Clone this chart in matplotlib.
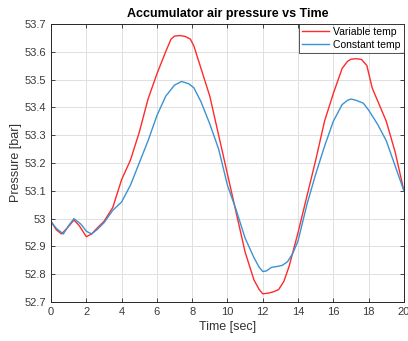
import matplotlib
matplotlib.use("Agg")
import matplotlib.pyplot as plt

plt.rcParams['font.family'] = ['Liberation Sans', 'DejaVu Sans']

t_var = [0, 0.3, 0.6, 0.9, 1.3, 1.6, 2.0, 2.3, 2.6, 3.0, 3.5, 3.8, 4.0, 4.5, 5.0, 5.5, 6.0,
         6.5, 6.8, 7.0, 7.3, 7.6, 7.9, 8.1, 8.5, 9.0, 9.5, 10.0, 10.5, 11.0, 11.5, 11.8,
         12.0, 12.3, 12.6, 12.9, 13.2, 13.5, 14.0, 14.5, 15.0, 15.5, 16.0, 16.5, 16.8,
         17.0, 17.3, 17.6, 17.9, 18.2, 18.6, 19.0, 19.5, 20.0]
p_var = [52.99, 52.96, 52.945, 52.965, 52.995, 52.975, 52.935, 52.945, 52.965, 52.99,
         53.04, 53.10, 53.14, 53.21, 53.31, 53.43, 53.52, 53.60, 53.645, 53.656, 53.658,
         53.655, 53.645, 53.62, 53.54, 53.44, 53.30, 53.16, 53.02, 52.88, 52.78, 52.745,
         52.73, 52.732, 52.737, 52.745, 52.775, 52.83, 52.95, 53.08, 53.21, 53.35, 53.45,
         53.54, 53.565, 53.573, 53.575, 53.572, 53.55, 53.47, 53.41, 53.35, 53.24, 53.10]

t_const = [0, 0.3, 0.7, 1.0, 1.3, 1.7, 2.0, 2.3, 2.6, 3.0, 3.5, 4.0, 4.5, 5.0, 5.5, 6.0,
           6.5, 7.0, 7.4, 7.8, 8.1, 8.5, 9.0, 9.5, 10.0, 10.5, 11.0, 11.5, 11.8, 12.0,
           12.2, 12.5, 12.8, 13.1, 13.4, 13.7, 14.0, 14.5, 15.0, 15.5, 16.0, 16.5, 16.8,
           17.0, 17.3, 17.7, 18.0, 18.5, 19.0, 19.5, 20.0]
p_const = [52.99, 52.965, 52.945, 52.975, 53.0, 52.98, 52.955, 52.945, 52.96, 52.985,
           53.03, 53.06, 53.12, 53.20, 53.28, 53.37, 53.44, 53.48, 53.493, 53.485, 53.47,
           53.42, 53.34, 53.25, 53.12, 53.03, 52.93, 52.86, 52.825, 52.81, 52.812, 52.825,
           52.828, 52.832, 52.845, 52.875, 52.92, 53.05, 53.16, 53.26, 53.35, 53.41, 53.425,
           53.43, 53.425, 53.415, 53.39, 53.34, 53.28, 53.19, 53.10]

x_ticks = [0, 2, 4, 6, 8, 10, 12, 14, 16, 18, 20]
y_ticks = [52.7, 52.8, 52.9, 53.0, 53.1, 53.2, 53.3, 53.4, 53.5, 53.6, 53.7]
y_labels = ['52.7', '52.8', '52.9', '53', '53.1', '53.2', '53.3', '53.4', '53.5', '53.6', '53.7']

fig = plt.figure(figsize=(4.08, 3.41), dpi=100)
ax = fig.add_axes([0.125, 0.114, 0.865, 0.816])

ax.plot(t_var, p_var, color='#ff2a2a', lw=1.0, label='Variable temp')
ax.plot(t_const, p_const, color='#3a93d3', lw=1.0, label='Constant temp')

ax.set_xlim(0, 20)
ax.set_ylim(52.7, 53.7)
ax.set_xticks(x_ticks)
ax.set_yticks(y_ticks)
ax.set_yticklabels(y_labels)
ax.grid(True, color='#e0e0e0', lw=0.7)
ax.set_axisbelow(True)
ax.tick_params(direction='in', length=3, width=0.6, colors='#262626', labelsize=8,
               labelcolor='#3a3a3a', top=True, right=True)
for s in ax.spines.values():
    s.set_color('#262626')
    s.set_linewidth(0.7)

ax.set_title('Accumulator air pressure vs Time', fontsize=9, fontweight='bold', pad=5)
ax.set_xlabel('Time [sec]', fontsize=9, color='#333333', labelpad=3)
ax.set_ylabel('Pressure [bar]', fontsize=9, color='#333333', labelpad=2)

leg = ax.legend(loc='upper right', fontsize=7.5, frameon=True, fancybox=False,
                borderpad=0.3, handlelength=2.6, handletextpad=0.4, borderaxespad=0.0,
                labelspacing=0.3)
leg.get_frame().set_edgecolor('#262626')
leg.get_frame().set_linewidth(0.7)

fig.savefig('out.png', dpi=100)
